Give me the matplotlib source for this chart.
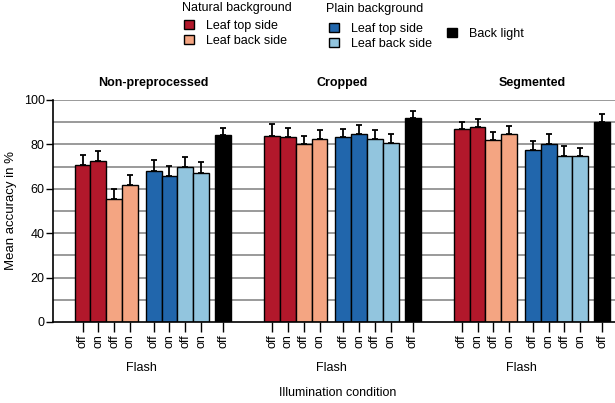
import matplotlib
matplotlib.use("Agg")
import matplotlib.pyplot as plt
from matplotlib.patches import Patch
import numpy as np

plt.rcParams['font.family'] = ['Liberation Sans', 'DejaVu Sans']

# Data
groups = ["Non-preprocessed", "Cropped", "Segmented"]
flash_labels = ["off", "on", "off", "on", "off", "on", "off", "on", "off"]
non_preprocessed = [70.6, 72.3, 55.6, 61.5, 68.0, 65.8, 69.6, 67.3, 84.2]
non_preprocessed_err = [4.6, 4.7, 4.5, 4.7, 4.8, 4.6, 4.6, 4.6, 3.3]
cropped = [83.9, 83.3, 80.4, 82.3, 83.3, 84.9, 82.3, 80.8, 91.9]
cropped_err = [5.1, 3.9, 3.5, 4.0, 3.8, 3.7, 4.0, 4.0, 3.3]
segmented = [86.8, 87.7, 82.0, 84.9, 77.5, 80.4, 74.8, 74.8, 90.2]
segmented_err = [3.1, 3.9, 3.6, 3.4, 4.2, 4.1, 4.6, 3.8, 3.5]

values = [non_preprocessed, cropped, segmented]
errors = [non_preprocessed_err, cropped_err, segmented_err]

# Styling
colors = ["#B2182B", "#B2182B", "#F4A582", "#F4A582",
          "#2166AC", "#2166AC", "#92C5DE", "#92C5DE", "#000000"]
offsets = np.array([0, 1, 2, 3, 4.5, 5.5, 6.5, 7.5, 8.9])
group_starts = [0, 12, 24]

fig = plt.figure(figsize=(6.15, 4.03), dpi=100)
ax = fig.add_axes([53 / 615, 81 / 403, 562 / 615, 222 / 403])

# Gridlines every 10
for yv in range(10, 101, 10):
    ax.axhline(yv, color="#9a9a9a", lw=1.4, zorder=0)

tick_pos = []
tick_lab = []
for g, start in enumerate(group_starts):
    x = start + offsets
    ax.bar(x, values[g], width=1.0, color=colors, edgecolor="black",
           linewidth=1.0, zorder=2)
    ax.errorbar(x, values[g], yerr=[np.zeros(len(x)), errors[g]],
                fmt="none", ecolor="black", elinewidth=1.3, capsize=2.5,
                capthick=1.3, zorder=3)
    tick_pos.extend(x)
    tick_lab.extend(flash_labels)
    # group title and Flash label
    ax.text(start + (offsets[0] + offsets[-1]) / 2, 105, groups[g],
            ha="center", va="bottom", fontsize=9, fontweight="bold")
    ax.text(start + (offsets[0] + offsets[7]) / 2, -20.5, "Flash",
            ha="center", va="center", fontsize=9)

ax.set_xlim(-1.87, 33.7)
ax.set_ylim(0, 100)
ax.set_yticks(range(0, 101, 20))
ax.tick_params(axis="y", labelsize=9, length=5, width=1, pad=1)
ax.set_xticks(tick_pos)
ax.set_xticklabels(tick_lab, rotation=90, fontsize=9)
ax.tick_params(axis="x", length=7, width=1, pad=2)

for side in ["top", "right"]:
    ax.spines[side].set_visible(False)
for side in ["left", "bottom"]:
    ax.spines[side].set_linewidth(1.2)

fig.text(11 / 615, 1 - 211 / 403, "Mean accuracy in %", rotation=90,
         ha="center", va="center", fontsize=9.5)
fig.text(338 / 615, 1 - 393 / 403, "Illumination condition",
         ha="center", va="center", fontsize=9)

# Legends
fig.text(182 / 615, 1 - 8 / 403, "Natural background", ha="left",
         va="center", fontsize=9)
fig.text(326 / 615, 1 - 9 / 403, "Plain background", ha="left",
         va="center", fontsize=9)

leg_kw = dict(frameon=False, fontsize=9,
              handlelength=0.75, handleheight=0.75, handletextpad=1.0,
              labelspacing=0.2, borderpad=0)
nat = [Patch(facecolor="#B2182B", edgecolor="black", label="Leaf top side"),
       Patch(facecolor="#F4A582", edgecolor="black", label="Leaf back side")]
pla = [Patch(facecolor="#2166AC", edgecolor="black", label="Leaf top side"),
       Patch(facecolor="#92C5DE", edgecolor="black", label="Leaf back side")]
blk = [Patch(facecolor="black", edgecolor="black", label="Back light")]
fig.legend(handles=nat, loc="upper left",
           bbox_to_anchor=(178 / 615, 1 - 14 / 403), **leg_kw)
fig.legend(handles=pla, loc="upper left",
           bbox_to_anchor=(323 / 615, 1 - 17 / 403), **leg_kw)
fig.legend(handles=blk, loc="upper left",
           bbox_to_anchor=(441 / 615, 1 - 22 / 403), **leg_kw)

fig.savefig("out.png", dpi=100)
